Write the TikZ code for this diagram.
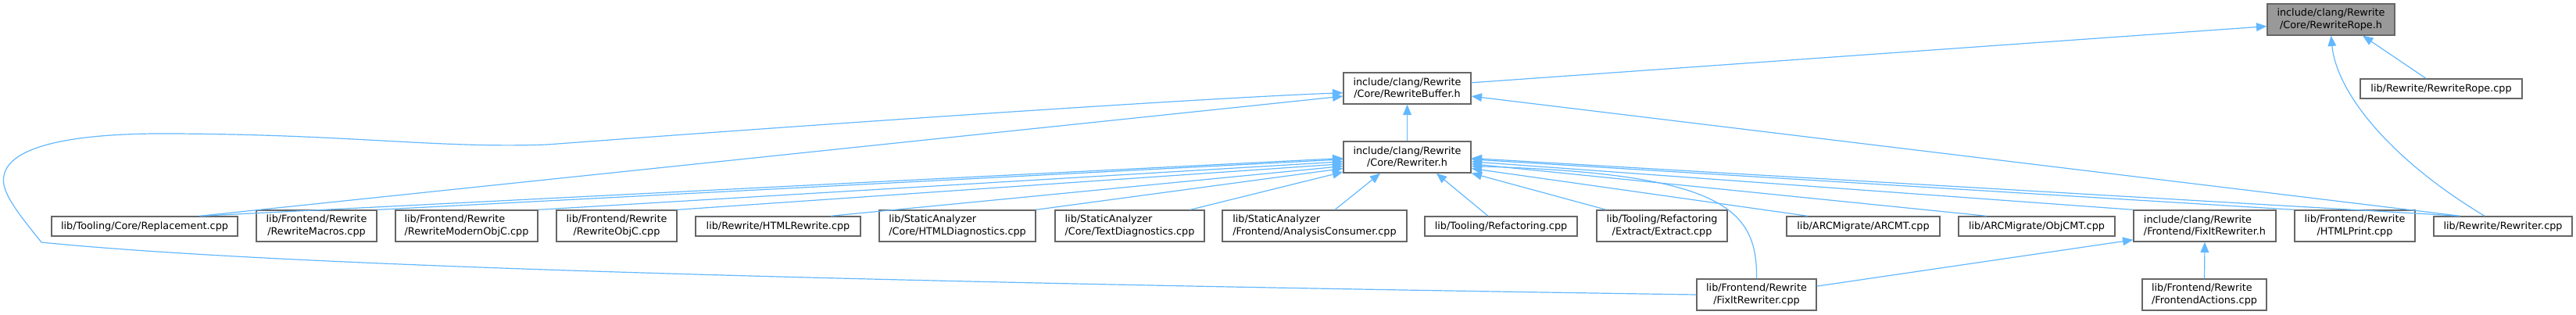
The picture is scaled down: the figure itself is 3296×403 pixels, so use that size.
\documentclass[tikz,border=0pt]{standalone}
\usepackage{fontspec}
\setmainfont{DejaVu Sans}
\usepackage{tikz}
\usetikzlibrary{arrows.meta}
\definecolor{linkblue}{RGB}{99,184,255}
\definecolor{boxgray}{RGB}{102,102,102}
\definecolor{rootgray}{RGB}{153,153,153}

\begin{document}
\begin{tikzpicture}[x=0.75pt, y=-0.75pt,
    every node/.style={font=\fontsize{9.6}{11.5}\selectfont},
    file/.style={draw=boxgray, line width=1pt, fill=white, inner sep=0pt, minimum height=18.75pt},
    file2/.style={file, minimum height=30pt, align=center},
    incl/.style={draw=linkblue, line width=0.9pt, -{Triangle[length=10pt,width=8pt]}}]
        \def\px{0.75pt}
        \useasboundingbox (0,0) rectangle (3296,403);
        \node[file2, fill=rootgray, minimum width=163*\px] (rope) at (2982.5,25) {include/clang/Rewrite\\/Core/RewriteRope.h};
        \node[file2, minimum width=163*\px] (buffer) at (1800.5,113) {include/clang/Rewrite\\/Core/RewriteBuffer.h};
        \node[file, minimum width=207*\px] (ropecpp) at (3123.5,113.5) {lib/Rewrite/RewriteRope.cpp};
        \node[file2, minimum width=163*\px] (rewriterh) at (1800.5,201) {include/clang/Rewrite\\/Core/Rewriter.h};
        \node[file, minimum width=238*\px] (replacement) at (185,289.5) {lib/Tooling/Core/Replacement.cpp};
        \node[file2, minimum width=154*\px] (macros) at (405,289) {lib/Frontend/Rewrite\\/RewriteMacros.cpp};
        \node[file2, align=left, minimum width=182*\px] (modern) at (597,289) {lib/Frontend/Rewrite\\/RewriteModernObjC.cpp};
        \node[file2, minimum width=154*\px] (objc) at (789,289) {lib/Frontend/Rewrite\\/RewriteObjC.cpp};
        \node[file, minimum width=211*\px] (htmlrewrite) at (995.5,289.5) {lib/Rewrite/HTMLRewrite.cpp};
        \node[file2, align=left, minimum width=200*\px] (htmldiag) at (1225,289) {lib/StaticAnalyzer\\/Core/HTMLDiagnostics.cpp};
        \node[file2, align=left, minimum width=191*\px] (textdiag) at (1445.5,289) {lib/StaticAnalyzer\\/Core/TextDiagnostics.cpp};
        \node[file2, align=left, minimum width=236*\px] (analysis) at (1682,289) {lib/StaticAnalyzer\\/Frontend/AnalysisConsumer.cpp};
        \node[file, minimum width=195*\px] (refactoring) at (1920.5,289.5) {lib/Tooling/Refactoring.cpp};
        \node[file2, minimum width=167*\px] (extract) at (2126.5,289) {lib/Tooling/Refactoring\\/Extract/Extract.cpp};
        \node[file, minimum width=196*\px] (arcmt) at (2384,289.5) {lib/ARCMigrate/ARCMT.cpp};
        \node[file, minimum width=200*\px] (objcmt) at (2606,289.5) {lib/ARCMigrate/ObjCMT.cpp};
        \node[file2, align=left, minimum width=182*\px] (fixith) at (2821,289) {include/clang/Rewrite\\/Frontend/FixItRewriter.h};
        \node[file2, minimum width=154*\px] (htmlprint) at (3013,289) {lib/Frontend/Rewrite\\/HTMLPrint.cpp};
        \node[file, minimum width=177*\px] (rewritercpp) at (3202.5,289.5) {lib/Rewrite/Rewriter.cpp};
        \node[file2, minimum width=153*\px] (fixitcpp) at (2247.5,377) {lib/Frontend/Rewrite\\/FixItRewriter.cpp};
        \node[file2, align=left, minimum width=159*\px] (frontendactions) at (2820.5,377) {lib/Frontend/Rewrite\\/FrontendActions.cpp};
        % edges into the header files
        \draw[incl] (buffer.5) -- (rope.186);
        \draw[incl] ([xshift=-14.6pt]ropecpp.north) -- (rope.333);
        \draw[incl] ([xshift=-17.6pt]rewritercpp.north) .. controls (3060,205) and (2990,120) .. (rope.south);
        \draw[incl] (rewriterh.north) -- (buffer.south);
        \draw[incl] ([xshift=53pt]replacement.north) -- (buffer.187);
        \draw[incl] ([xshift=-41pt]rewritercpp.north) -- (buffer.353);
        \draw[incl] (fixitcpp.west) .. controls (1300,364) and (400,345) .. (53,310)
          .. controls (25,275) and (0,245) .. (5,225)
          .. controls (12,185) and (100,170) .. (220,171)
          .. controls (450,172) and (560,190) .. (700,185)
          .. controls (1100,155) and (1550,125) .. (buffer.184);
        \draw[incl] ([xshift=53pt]replacement.north) -- (rewriterh.181);
        \draw[incl] (macros.north east) -- (rewriterh.182);
        \draw[incl] (modern.north east) -- (rewriterh.184);
        \draw[incl] (objc.north east) -- (rewriterh.186);
        \draw[incl] ([xshift=50.6pt]htmlrewrite.north) -- (rewriterh.188);
        \draw[incl] (htmldiag.north east) -- (rewriterh.190);
        \draw[incl] ([xshift=58pt]textdiag.north) -- (rewriterh.193);
        \draw[incl] ([xshift=19.5pt]analysis.north) -- (rewriterh.211);
        \draw[incl] ([xshift=-12.4pt]refactoring.north) -- (rewriterh.331);
        \draw[incl] ([xshift=-53.6pt]extract.north) -- (rewriterh.346);
        \draw[incl] ([xshift=-53.3pt]arcmt.north) -- (rewriterh.350);
        \draw[incl] ([xshift=-48pt]objcmt.north) -- (rewriterh.354);
        \draw[incl] (fixith.north west) -- (rewriterh.356);
        \draw[incl] (htmlprint.north west) -- (rewriterh.358);
        \draw[incl] ([xshift=-41pt]rewritercpp.north) -- (rewriterh.359);
        \draw[incl] (fixitcpp.north) .. controls (2249,265) and (2200,222) .. (rewriterh.352);
        \draw[incl] (fixitcpp.8) -- (fixith.191);
        \draw[incl] (frontendactions.north) -- (fixith.south);
\end{tikzpicture}
\end{document}
